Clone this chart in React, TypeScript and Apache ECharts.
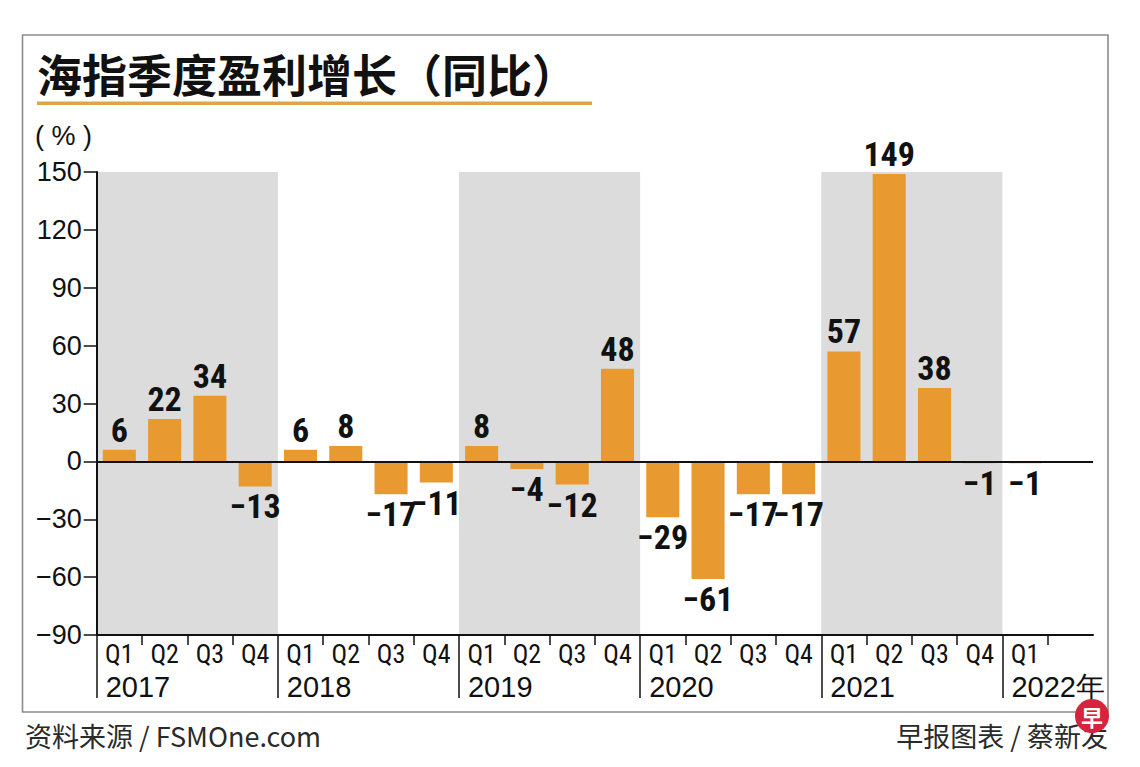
import React, { useEffect, useRef } from "react";
import * as echarts from "echarts";

// ---- data ----
const categories = [
  "2017Q1", "2017Q2", "2017Q3", "2017Q4",
  "2018Q1", "2018Q2", "2018Q3", "2018Q4",
  "2019Q1", "2019Q2", "2019Q3", "2019Q4",
  "2020Q1", "2020Q2", "2020Q3", "2020Q4",
  "2021Q1", "2021Q2", "2021Q3", "2021Q4",
  "2022Q1", "2022Q2",
];
const quarterLabels = [
  "Q1", "Q2", "Q3", "Q4",
  "Q1", "Q2", "Q3", "Q4",
  "Q1", "Q2", "Q3", "Q4",
  "Q1", "Q2", "Q3", "Q4",
  "Q1", "Q2", "Q3", "Q4",
  "Q1", "",
];
const growth: (number | null)[] = [
  6, 22, 34, -13,
  6, 8, -17, -11,
  8, -4, -12, 48,
  -29, -61, -17, -17,
  57, 149, 38, -1,
  -1, null,
];
const yearLabels = ["2017", "2018", "2019", "2020", "2021", "2022年"];
const shadedYearIdx = [0, 2, 4]; // 2017, 2019, 2021
const yMin = -90;
const yMax = 150;
const yStep = 30;

const boundaries = Array.from({ length: categories.length + 1 }, (_, i) => "b" + i);
const minus = (s: string) => s.replace("-", "\u2212");

const FONT = "'Liberation Sans', Arial, Helvetica, sans-serif";
const NARROW = "'Liberation Sans Narrow', 'Arial Narrow', 'Roboto Condensed', 'Liberation Sans', sans-serif";
const CJK = "'Noto Sans CJK SC', 'Noto Sans', sans-serif";

export default function App() {
  const ref = useRef<HTMLDivElement>(null);

  useEffect(() => {
    if (!ref.current) return;
    const chart = echarts.init(ref.current, undefined, { renderer: "svg" });

    const barData = growth.map((v) =>
      v == null
        ? "-"
        : { value: v, label: { position: v >= 0 ? "top" : "bottom" } }
    );

    const option: any = {
      animation: false,
      backgroundColor: "#ffffff",
      grid: { left: 96.7, right: 47, top: 172, bottom: 132, containLabel: false },
      xAxis: [
        {
          type: "category",
          data: categories,
          position: "bottom",
          boundaryGap: true,
          z: 6,
          axisLine: { show: true, onZero: false, lineStyle: { color: "#111", width: 2 } },
          axisTick: { show: false },
          axisLabel: {
            interval: 0,
            margin: 6,
            fontSize: 26,
            fontFamily: NARROW,
            color: "#111",
            formatter: (_v: string, i: number) => quarterLabels[i],
          },
          splitLine: { show: false },
        },
        {
          type: "category",
          data: boundaries,
          position: "bottom",
          boundaryGap: false,
          z: 6,
          axisLine: { show: false, onZero: false },
          axisTick: {
            show: true,
            length: 10,
            interval: (i: number) => i % 4 !== 0 && i <= categories.length - 1,
            lineStyle: { color: "#111", width: 1.5 },
          },
          axisLabel: { show: false },
          splitLine: { show: false },
        },
        {
          type: "category",
          data: boundaries,
          position: "bottom",
          boundaryGap: false,
          z: 6,
          axisLine: { show: false, onZero: false },
          axisTick: {
            show: true,
            length: 63,
            interval: (i: number) => i % 4 === 0 && i / 4 < yearLabels.length,
            lineStyle: { color: "#111", width: 1.5 },
          },
          axisLabel: {
            interval: 0,
            margin: 37,
            align: "left",
            padding: [0, 0, 0, 9],
            fontSize: 29,
            fontFamily: FONT,
            color: "#111",
            formatter: (_v: string, i: number) =>
              i % 4 === 0 && i / 4 < yearLabels.length ? yearLabels[i / 4] : "",
          },
          splitLine: { show: false },
        },
      ],
      yAxis: {
        type: "value",
        min: yMin,
        max: yMax,
        interval: yStep,
        z: 6,
        axisLine: { show: true, lineStyle: { color: "#111", width: 2 } },
        axisTick: { show: true, length: 13, lineStyle: { color: "#111", width: 1.5 } },
        axisLabel: {
          margin: 15,
          fontSize: 27,
          fontFamily: FONT,
          color: "#111",
          formatter: (v: number) => minus(String(v)),
        },
        splitLine: { show: false },
      },
      series: [
        {
          type: "line",
          xAxisIndex: 2,
          yAxisIndex: 0,
          data: boundaries.map(() => null),
          symbol: "none",
          silent: true,
          lineStyle: { opacity: 0 },
          markArea: {
            silent: true,
            itemStyle: { color: "#dcdcdc" },
            data: shadedYearIdx.map((y) => [
              { xAxis: boundaries[y * 4] },
              { xAxis: boundaries[y * 4 + 4] },
            ]),
          },
        },
        {
          type: "bar",
          xAxisIndex: 0,
          yAxisIndex: 0,
          data: barData,
          barWidth: "73%",
          z: 3,
          itemStyle: { color: "#e89a30" },
          label: {
            show: true,
            distance: 3,
            fontSize: 34,
            fontWeight: "bold",
            fontFamily: NARROW,
            color: "#111",
            formatter: (p: any) => minus(String(p.value)),
          },
          markLine: {
            silent: true,
            symbol: ["none", "none"],
            label: { show: false },
            lineStyle: { color: "#111", width: 2, type: "solid" },
            data: [{ yAxis: 0 }],
          },
        },
      ],
      graphic: [
        {
          type: "rect",
          z: 0,
          shape: { x: 22.5, y: 35, width: 1085.5, height: 677 },
          style: { fill: "none", stroke: "#8c8c8c", lineWidth: 1.6 },
        },
        {
          type: "text",
          z: 10,
          x: 37,
          y: 73,
          style: {
            text: "海指季度盈利增长（同比）",
            fontSize: 45,
            fontWeight: "bold",
            fontFamily: CJK,
            fill: "#111",
            align: "left",
            verticalAlign: "middle",
          },
        },
        {
          type: "rect",
          z: 10,
          shape: { x: 37, y: 101.5, width: 555, height: 3.5 },
          style: { fill: "#dca54a" },
        },
        {
          type: "text",
          z: 10,
          x: 35,
          y: 136,
          style: {
            text: "( % )",
            fontSize: 27,
            fontFamily: FONT,
            fill: "#111",
            align: "left",
            verticalAlign: "middle",
          },
        },
        {
          type: "text",
          z: 10,
          x: 25,
          y: 735,
          style: {
            text: "资料来源 / FSMOne.com",
            fontSize: 27,
            fontFamily: CJK,
            fill: "#2a2a2a",
            align: "left",
            verticalAlign: "middle",
          },
        },
        {
          type: "text",
          z: 10,
          x: 1108,
          y: 735,
          style: {
            text: "早报图表 / 蔡新发",
            fontSize: 27,
            fontFamily: CJK,
            fill: "#2a2a2a",
            align: "right",
            verticalAlign: "middle",
          },
        },
        {
          type: "circle",
          z: 20,
          shape: { cx: 1092, cy: 716, r: 17 },
          style: { fill: "#d6243c" },
        },
        {
          type: "text",
          z: 21,
          x: 1092,
          y: 716,
          style: {
            text: "早",
            fontSize: 22,
            fontWeight: "bold",
            fontFamily: CJK,
            fill: "#ffffff",
            align: "center",
            verticalAlign: "middle",
          },
        },
      ],
    };

    chart.setOption(option);
    return () => chart.dispose();
  }, []);

  return (
    <div
      ref={ref}
      style={{ position: "absolute", left: 0, top: 0, width: 1140, height: 767 }}
    />
  );
}
